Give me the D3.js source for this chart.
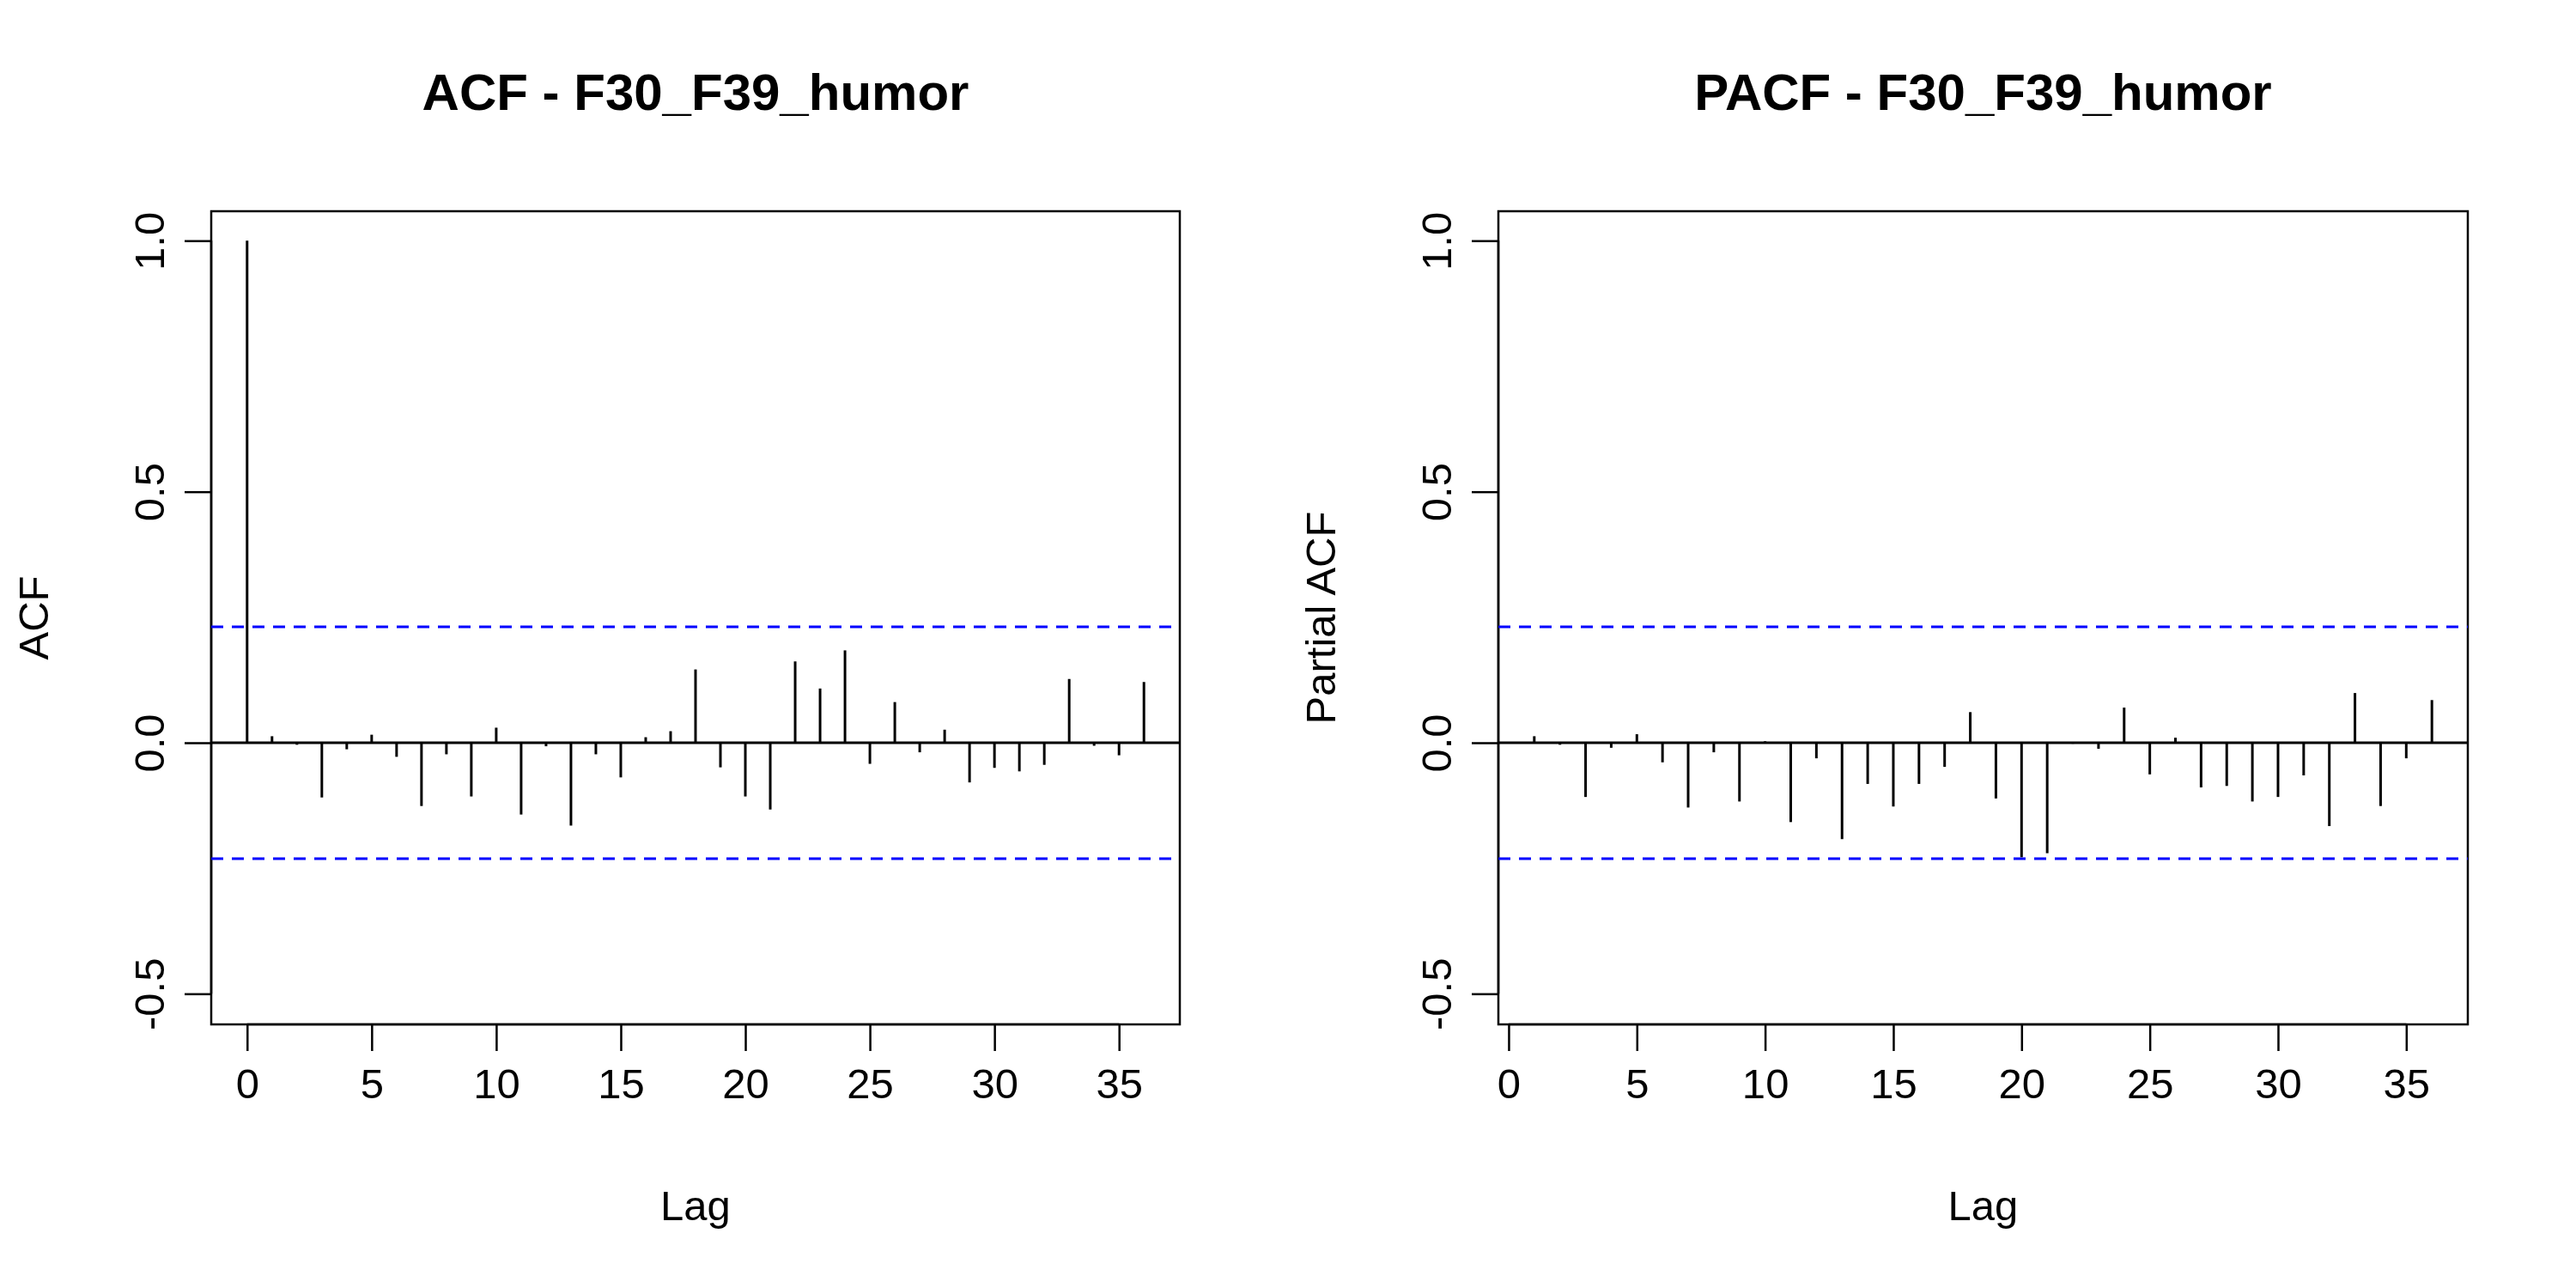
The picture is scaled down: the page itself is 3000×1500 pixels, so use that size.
<!DOCTYPE html>
<html><head><meta charset="utf-8">
<script src="https://cdn.jsdelivr.net/npm/d3@7"></script>
<style>body{margin:0;background:#fff}text{font-family:Arial,"Liberation Sans",sans-serif}</style>
</head><body>
<script>
const acfLags = d3.range(0, 37);
const acfValues = [1.0,0.013,-0.004,-0.109,-0.013,0.016,-0.028,-0.126,-0.023,-0.107,0.030,-0.143,-0.007,-0.165,-0.023,-0.069,0.011,0.023,0.146,-0.049,-0.107,-0.133,0.162,0.108,0.184,-0.042,0.081,-0.019,0.026,-0.079,-0.050,-0.057,-0.044,0.127,-0.006,-0.025,0.121];
const pacfLags = d3.range(1, 37);
const pacfValues = [0.013,-0.004,-0.108,-0.010,0.017,-0.039,-0.129,-0.019,-0.117,0.003,-0.158,-0.031,-0.192,-0.082,-0.127,-0.082,-0.048,0.061,-0.111,-0.228,-0.220,-0.002,-0.012,0.070,-0.063,0.010,-0.089,-0.086,-0.117,-0.108,-0.065,-0.166,0.099,-0.126,-0.031,0.085];
const ci = 0.2309;
const xTicks = [0,5,10,15,20,25,30,35];
const yTicks = [-0.5,0,0.5,1.0];

const svg = d3.select("body").append("svg").attr("width",3000).attr("height",1500);
const yfmt = d => d.toFixed(1);

function panel(opts){
  const {left,right,xdom,lags,vals,title,ylab,ylabX} = opts;
  const top=246,bottom=1193;
  const x=d3.scaleLinear().domain(xdom).range([left,right]);
  const y=d3.scaleLinear().domain([-0.561,1.0587]).range([bottom,top]);
  const g=svg.append("g");
  g.append("rect").attr("x",left).attr("y",top).attr("width",right-left).attr("height",bottom-top)
   .attr("fill","none").attr("stroke","#000").attr("stroke-width",2.5);
  const xa=g.append("g").attr("transform",`translate(0,${bottom})`)
   .call(d3.axisBottom(x).tickValues(xTicks).tickSize(31).tickPadding(20).tickFormat(d3.format("d")));
  xa.select(".domain").attr("d",`M${x(0)},0H${x(35)}`).attr("stroke-width",2.5);
  xa.selectAll(".tick line").attr("stroke-width",2.5);
  xa.selectAll("text").attr("font-size",49).attr("fill","#000");
  const ya=g.append("g").attr("transform",`translate(${left},0)`)
   .call(d3.axisLeft(y).tickValues(yTicks).tickSize(31).tickFormat(yfmt));
  ya.select(".domain").attr("d",`M0,${y(-0.5)}V${y(1)}`).attr("stroke-width",2.5);
  ya.selectAll(".tick line").attr("stroke-width",2.5);
  ya.selectAll(".tick text").attr("font-size",49).attr("fill","#000")
    .attr("text-anchor","middle").attr("x",0).attr("dy",0)
    .attr("transform",`translate(-72,0) rotate(-90)`).attr("dominant-baseline","central");
  g.append("line").attr("x1",left).attr("x2",right).attr("y1",y(0)).attr("y2",y(0)).attr("stroke","#000").attr("stroke-width",3);
  [ci,-ci].forEach(c=>g.append("line").attr("x1",left).attr("x2",right).attr("y1",y(c)).attr("y2",y(c))
    .attr("stroke","#0000FF").attr("stroke-width",3).attr("stroke-dasharray","14,10"));
  g.selectAll(".bar").data(lags.map((l,i)=>({l,v:vals[i]}))).enter().append("line")
   .attr("x1",d=>x(d.l)).attr("x2",d=>x(d.l)).attr("y1",y(0)).attr("y2",d=>y(d.v))
   .attr("stroke","#000").attr("stroke-width",3);
  g.append("text").attr("x",(left+right)/2).attr("y",128).attr("text-anchor","middle")
   .attr("font-size",60).attr("font-weight","bold").text(title);
  g.append("text").attr("x",(left+right)/2).attr("y",1421).attr("text-anchor","middle")
   .attr("font-size",49).text("Lag");
  g.append("text").attr("transform",`translate(${ylabX},${(top+bottom)/2}) rotate(-90)`)
   .attr("text-anchor","middle").attr("font-size",49).text(ylab);
}
panel({left:246,right:1374,xdom:[-1.44,37.44],lags:acfLags,vals:acfValues,title:"ACF - F30_F39_humor",ylab:"ACF",ylabX:56});
panel({left:1745,right:2874,xdom:[-0.4,37.4],lags:pacfLags,vals:pacfValues,title:"PACF - F30_F39_humor",ylab:"Partial ACF",ylabX:1555});
</script>
</body></html>
